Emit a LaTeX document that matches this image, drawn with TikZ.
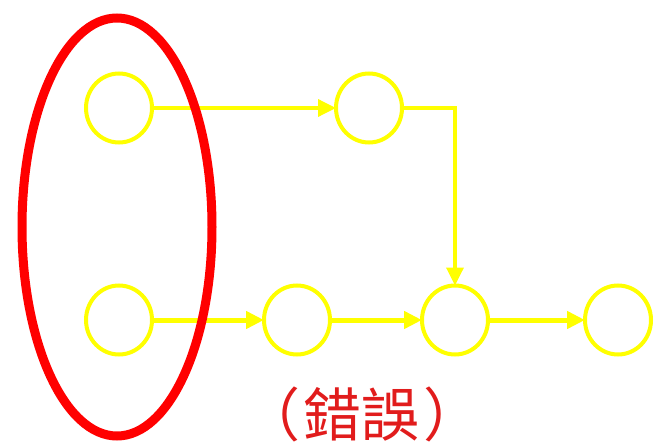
\documentclass[tikz,border=0pt]{standalone}
\usepackage{fontspec}
\newfontfamily\cjkfont{Noto Sans CJK TC}
\usetikzlibrary{positioning, shapes.geometric, arrows.meta}

\definecolor{lineyellow}{RGB}{255,255,0}
\definecolor{ringred}{RGB}{255,0,0}
\definecolor{textred}{RGB}{225,28,28}

\begin{document}
\begin{tikzpicture}[
                x=1pt, y=-1pt,
                    state/.style = {ellipse, draw=lineyellow, line width=4pt, minimum width=66pt, minimum height=69pt, inner sep=0pt, outer sep=0pt},
                    thinflow/.style = {-{Triangle[length=18pt, width=17pt]}, line width=3.5pt, draw=lineyellow},
                    thickflow/.style = {-{Triangle[length=18pt, width=17pt]}, line width=5pt, draw=lineyellow},
                    ring/.style = {ellipse, draw=ringred, line width=9pt, minimum width=190pt, minimum height=418pt, inner sep=0pt}
                ]
                \useasboundingbox (0,0) rectangle (656,444);

                \node[state] (top1) at (119,108) {};
                \node[state, right=184pt of top1] (top2) {};
                \node[state, below=143pt of top1] (bot1) {};
                \node[state, right=112pt of bot1] (bot2) {};
                \node[state, right=92pt of bot2] (bot3) {};
                \node[state, right=97pt of bot3] (bot4) {};

                \draw[thinflow] (top1) -- (top2);
                \draw[thinflow] (top2.east) -| (bot3.north);
                \draw[thickflow] (bot1) -- (bot2);
                \draw[thickflow] (bot2) -- (bot3);
                \draw[thickflow] (bot3) -- (bot4);

                % the circled pair of start states
                \node[ring] (group) at (117,227) {};

                \node[text=textred, font=\cjkfont\fontsize{58}{58}\selectfont] (label) at (362,414) {（\hspace{4pt}錯誤\hspace{4pt}）};

            \end{tikzpicture}
\end{document}
